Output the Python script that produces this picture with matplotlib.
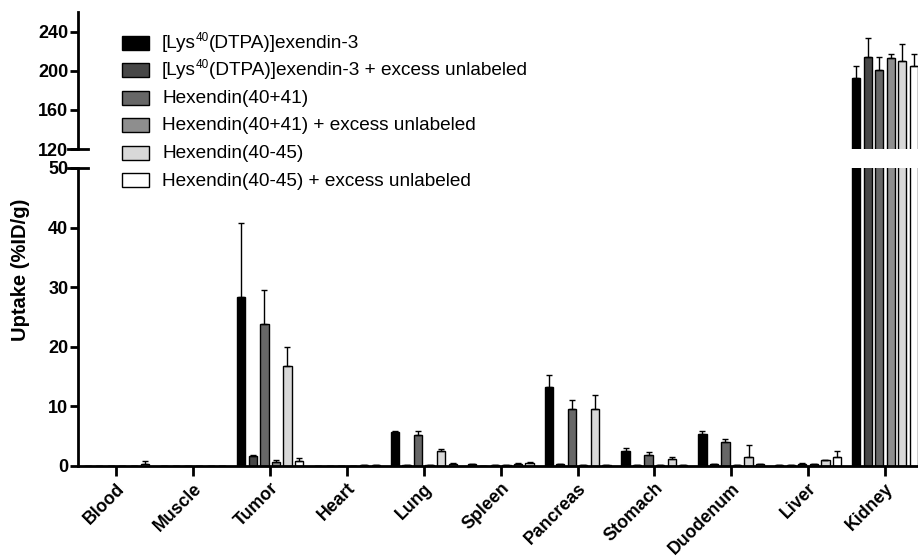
import numpy as np
import matplotlib.pyplot as plt
from matplotlib.lines import Line2D
from matplotlib.patches import Rectangle

plt.rcParams['font.family'] = ['Liberation Sans', 'DejaVu Sans']

organs = ["Blood", "Muscle", "Tumor", "Heart", "Lung", "Spleen", "Pancreas",
          "Stomach", "Duodenum", "Liver", "Kidney"]

# legend labels: (tekst voor superscript, superscript, tekst erna)
series_names = [
    ("[Lys", "40", "(DTPA)]exendin-3"),
    ("[Lys", "40", "(DTPA)]exendin-3 + excess unlabeled"),
    ("Hexendin(40+41)", "", ""),
    ("Hexendin(40+41) + excess unlabeled", "", ""),
    ("Hexendin(40-45)", "", ""),
    ("Hexendin(40-45) + excess unlabeled", "", ""),
]
series_colors = ["#000000", "#474747", "#676767", "#8e8e8e", "#d8d8d8", "#ffffff"]

# gemiddelde opname (%ID/g) per serie
lys = [0.05, 0.03, 28.3, 0.0, 5.7, 0.3, 13.3, 2.6, 5.35, 0.15, 192.7]
lys_exc = [0.05, 0.03, 1.7, 0.0, 0.1, 0.05, 0.3, 0.1, 0.3, 0.1, 213.9]
hex41 = [0.05, 0.03, 23.8, 0.0, 5.15, 0.2, 9.5, 1.9, 4.0, 0.4, 201.2]
hex41_exc = [0.05, 0.03, 0.7, 0.0, 0.1, 0.1, 0.2, 0.1, 0.15, 0.3, 213.3]
hex45 = [0.05, 0.03, 16.7, 0.15, 2.6, 0.4, 9.6, 1.2, 1.45, 0.95, 209.8]
hex45_exc = [0.4, 0.03, 0.8, 0.2, 0.4, 0.5, 0.2, 0.1, 0.3, 1.55, 205.3]

# standaarddeviatie (alleen naar boven getekend)
lys_sd = [0, 0, 12.4, 0, 0.25, 0.1, 1.9, 0.4, 0.5, 0.05, 12.6]
lys_exc_sd = [0, 0, 0.15, 0, 0, 0, 0.05, 0, 0.1, 0, 20.0]
hex41_sd = [0, 0, 5.7, 0, 0.75, 0.05, 1.5, 0.4, 0.45, 0.1, 13.1]
hex41_exc_sd = [0, 0, 0.25, 0, 0, 0, 0, 0, 0, 0.05, 4.1]
hex45_sd = [0, 0, 3.3, 0, 0.25, 0.1, 2.3, 0.25, 2.05, 0.1, 17.9]
hex45_exc_sd = [0.4, 0, 0.5, 0, 0.15, 0.2, 0, 0, 0.05, 1.0, 11.4]

values = [lys, lys_exc, hex41, hex41_exc, hex45, hex45_exc]
errors = [lys_sd, lys_exc_sd, hex41_sd, hex41_exc_sd, hex45_sd, hex45_exc_sd]

W, H = 918, 556
fig = plt.figure(figsize=(W / 100, H / 100), dpi=100)
left, width = 78 / W, 1 - 78 / W
ax_top = fig.add_axes([left, 1 - 149 / H, width, (149 - 12) / H])
ax_bot = fig.add_axes([left, 1 - 466 / H, width, (466 - 168) / H])

x = np.arange(len(organs))
bw = 0.15
for ax in (ax_top, ax_bot):
    for i, (vals, errs) in enumerate(zip(values, errors)):
        pos = x + (i - 2.5) * bw
        ax.bar(pos, vals, width=bw * 0.72, color=series_colors[i],
               edgecolor="black", linewidth=1.0,
               yerr=[np.zeros(len(errs)), errs], capsize=2.5,
               error_kw=dict(elinewidth=1.0, capthick=1.0, ecolor="black"))

ax_top.set_ylim(120, 260)
ax_top.set_yticks([120, 160, 200, 240])
ax_bot.set_ylim(0, 50)
ax_bot.set_yticks([0, 10, 20, 30, 40, 50])

for ax in (ax_top, ax_bot):
    ax.set_xlim(-0.5, 10.43)
    ax.spines["right"].set_visible(False)
    ax.spines["top"].set_visible(False)
    ax.spines["left"].set_linewidth(2)
    ax.spines["bottom"].set_linewidth(2)
    ax.tick_params(axis="y", direction="out", length=6, width=2,
                   labelsize=13, pad=1)
    for lab in ax.get_yticklabels():
        lab.set_fontweight("bold")

ax_top.spines["bottom"].set_visible(False)
ax_top.tick_params(axis="x", bottom=False, labelbottom=False)

ax_bot.set_xticks(x)
ax_bot.set_xticklabels(organs, rotation=45, ha="right", rotation_mode="anchor",
                       fontsize=12.8, fontweight="bold")
ax_bot.tick_params(axis="x", direction="out", length=7, width=2, pad=3)

# onderbrekingsstreepjes op de y-as
for ax, yy in ((ax_top, 0), (ax_bot, 1)):
    ax.add_line(Line2D([-0.012, 0.012], [yy, yy], transform=ax.transAxes,
                       color="black", linewidth=2, clip_on=False))

fig.text(21 / W, 1 - 270 / H, "Uptake (%ID/g)", rotation=90, ha="center",
         va="center", fontsize=14.5, fontweight="bold")

# legenda handmatig, vaste regelafstand
renderer = fig.canvas.get_renderer()
fs = 13.7
for i, (pre, sup, post) in enumerate(series_names):
    yc = 42.5 + 27.5 * i
    fig.patches.append(Rectangle((122 / W, 1 - (yc + 7) / H), 27 / W, 14 / H,
                                 transform=fig.transFigure, facecolor=series_colors[i],
                                 edgecolor="black", linewidth=1.0))
    base = 1 - (yc + 5.5) / H
    t = fig.text(162 / W, base, pre, ha="left", va="baseline", fontsize=fs)
    if sup:
        x1 = t.get_window_extent(renderer).x1 / W
        s = fig.text(x1, base + 7 / H, sup, ha="left", va="baseline",
                     fontsize=fs * 0.62)
        x2 = s.get_window_extent(renderer).x1 / W
        fig.text(x2, base, post, ha="left", va="baseline", fontsize=fs)

fig.savefig("out.png", dpi=100)
